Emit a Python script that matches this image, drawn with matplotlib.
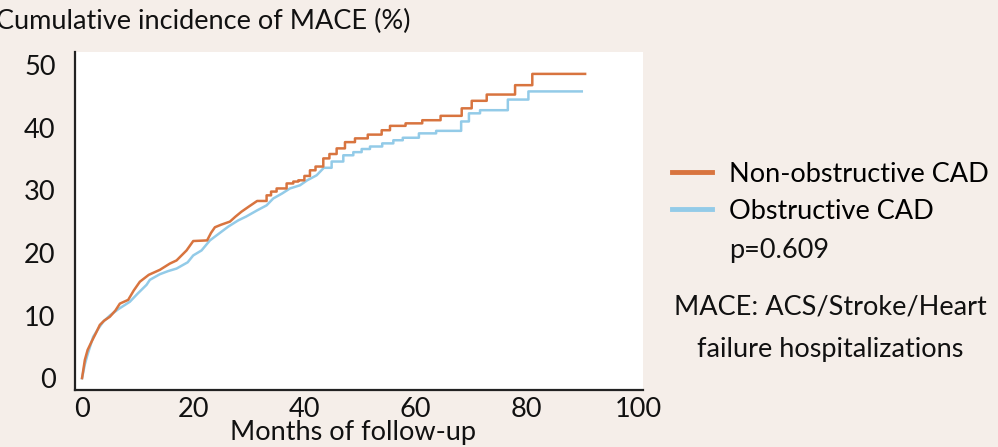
import matplotlib
matplotlib.use("Agg")
import matplotlib.pyplot as plt

plt.rcParams['font.family'] = ['Lato', 'DejaVu Sans']

# Kaplan-Meier style cumulative incidence
months_nonobs = [0, 0.5, 1, 1.7, 2.5, 3.2, 4, 5, 6, 6.8, 8.3, 9.3, 10.4, 12, 14, 15.8,
                 17, 18.8, 20, 22.5, 23.2, 23.9, 25, 26.6, 27.6, 28.7, 30, 31.5, 33.2,
                 34, 35, 36.8, 38, 38.9, 40, 41, 42, 43.4, 44.5, 45.8, 47.3, 49.1, 51.4,
                 53.9, 55.4, 58.2, 61.2, 64.5, 68.3, 70.1, 72.8, 77.9, 81, 90.5]
mace_nonobs = [0, 2.9, 4.5, 5.8, 7.2, 8.5, 9.2, 9.8, 10.8, 11.9, 12.5, 14.0, 15.4, 16.5,
               17.3, 18.3, 18.8, 20.4, 21.9, 22.0, 23.2, 24.1, 24.5, 25.0, 25.8, 26.6,
               27.4, 28.3, 29.2, 29.8, 30.3, 31.1, 31.4, 31.6, 32.3, 33.2, 33.8, 35.1,
               35.8, 36.7, 37.7, 38.3, 38.9, 39.6, 40.3, 40.7, 41.2, 41.9, 43.1, 44.3,
               45.3, 46.8, 48.6, 48.6]

months_obs = [0, 0.5, 1, 2, 3, 3.8, 5, 6.5, 8.6, 10, 11.6, 12.2, 14, 15.5, 17, 19, 20,
              21.5, 23, 24.5, 26.3, 28.1, 29.5, 31.5, 33.2, 34.4, 36, 37.4, 39.2, 40.5,
              42.2, 43.5, 44.9, 47, 48.8, 50.3, 51.8, 54, 56, 57.7, 60.6, 63.7, 68.2,
              69.6, 71.6, 76.6, 80.3, 89.9]
mace_obs = [0, 2.2, 3.8, 6.6, 8.0, 9.0, 10.0, 11.0, 12.2, 13.5, 14.9, 15.7, 16.6, 17.1,
            17.5, 18.5, 19.6, 20.4, 22.0, 23.0, 24.2, 25.2, 25.8, 26.8, 27.6, 28.7,
            29.5, 30.3, 30.8, 31.6, 32.4, 33.6, 34.6, 35.6, 36.1, 36.6, 37.0, 37.5, 38.0,
            38.4, 39.1, 39.5, 41.0, 42.3, 42.8, 44.5, 45.8, 45.8]

# before these months the many tiny steps blur into a line
smooth_until = [33, 44]

labels = ['Non-obstructive CAD', 'Obstructive CAD']
colors = ['#d8743f', '#93cbe8']
xticks = [0, 20, 40, 60, 80, 100]
yticks = [0, 10, 20, 30, 40, 50]
FS = 19.5


def km_path(t, v, cut):
    xs, ys = [t[0]], [v[0]]
    for i in range(1, len(t)):
        if t[i] > cut:
            xs.append(t[i])
            ys.append(v[i - 1])
        xs.append(t[i])
        ys.append(v[i])
    return xs, ys


fig = plt.figure(figsize=(9.98, 4.47), dpi=100, facecolor='#f5eee9')
ax = fig.add_axes([0.0752, 0.1275, 0.569, 0.7562])
ax.set_facecolor('white')

x2, y2 = km_path(months_obs, mace_obs, smooth_until[1])
x1, y1 = km_path(months_nonobs, mace_nonobs, smooth_until[0])
l2, = ax.plot(x2, y2, color=colors[1], lw=1.8)
l1, = ax.plot(x1, y1, color=colors[0], lw=1.8)

ax.set_xlim(-1.26, 100.9)
ax.set_ylim(-1.9, 52.1)
ax.set_xticks(xticks)
ax.set_yticks(yticks)
ax.tick_params(length=0, labelsize=FS, colors='#111111')
ax.tick_params(axis='y', pad=14)
ax.tick_params(axis='x', pad=5)
for s in ['top', 'right']:
    ax.spines[s].set_visible(False)
for s in ['left', 'bottom']:
    ax.spines[s].set_linewidth(1.6)
    ax.spines[s].set_color('#222222')

fig.text(0.354, 0.016, 'Months of follow-up', fontsize=FS, ha='center', va='baseline',
         color='#111111')
fig.text(-0.004, 0.953, 'Cumulative incidence of MACE (%)', fontsize=FS,
         ha='left', va='center', color='#111111')

fig.legend([l1, l2], labels, loc='upper left', bbox_to_anchor=(0.673, 0.638),
           frameon=False, fontsize=FS, handlelength=1.5, handletextpad=0.6,
           labelspacing=0.44, borderaxespad=0, borderpad=0)
for h in fig.legends[0].legend_handles:
    h.set_linewidth(3.5)
fig.text(0.731, 0.44, 'p=0.609', fontsize=FS, ha='left', va='center', color='#111111')
fig.text(0.832, 0.313, 'MACE: ACS/Stroke/Heart', fontsize=FS, ha='center', va='center',
         color='#111111')
fig.text(0.832, 0.219, 'failure hospitalizations', fontsize=FS, ha='center', va='center',
         color='#111111')

fig.savefig('out.png', dpi=100, facecolor=fig.get_facecolor())
